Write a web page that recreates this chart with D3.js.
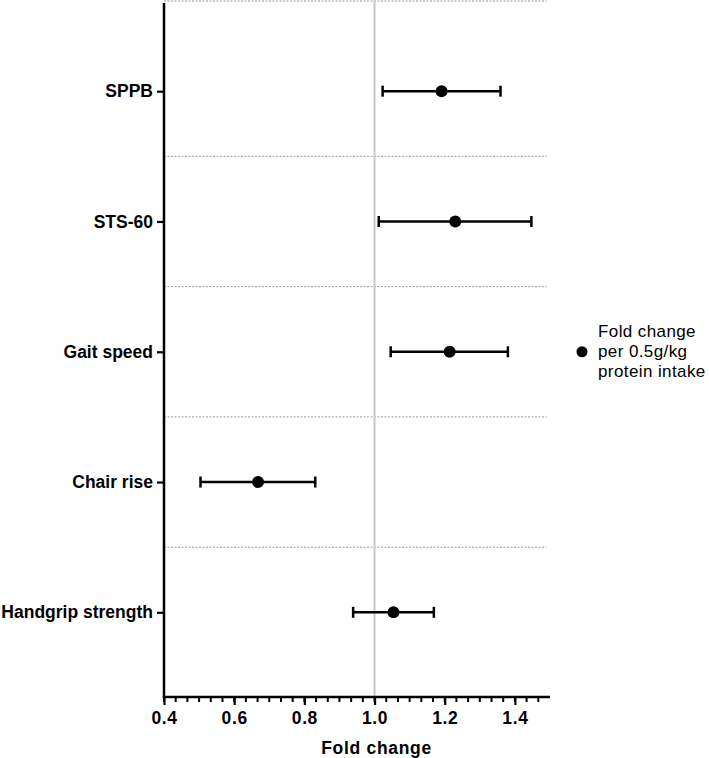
<!DOCTYPE html>
<html><head><meta charset="utf-8">
<script src="https://cdn.jsdelivr.net/npm/d3@7"></script>
<style>
body{margin:0;background:#fff;}
text{font-family:"Liberation Sans",Arial,sans-serif;}
</style></head>
<body><svg id="c" width="709" height="758"></svg>
<script>
const categories = ["SPPB","STS-60","Gait speed","Chair rise","Handgrip strength"];
const estimates  = [1.191, 1.230, 1.214, 0.668, 1.054];
const lower      = [1.023, 1.012, 1.046, 0.504, 0.939];
const upper      = [1.359, 1.447, 1.380, 0.831, 1.169];
const xTicks     = [0.4, 0.6, 0.8, 1.0, 1.2, 1.4];
const legendLines = ["Fold change","per 0.5g/kg","protein intake"];
const xLabel = "Fold change";

(function(){
const svg = d3.select("#c");
const pl = 164, pr = 550, pt = 0, pb = 697;
const x = d3.scaleLinear().domain([0.4, 1.5]).range([pl, pr]);
const y = d3.scaleLinear().domain([-0.7, categories.length - 0.35]).range([pt, pb]);

// separators (dotted)
const seps = [-0.7].concat(d3.range(categories.length - 1).map(i => i + 0.5));
svg.append("g").selectAll("line").data(seps).join("line")
  .attr("x1", pl).attr("x2", x(1.49)).attr("y1", d => Math.max(1, y(d))).attr("y2", d => Math.max(1, y(d)))
  .attr("stroke", "#9a9a9a").attr("stroke-width", 1).attr("stroke-dasharray", "2,1.5");

// reference line at 1.0
svg.append("line").attr("x1", x(1)).attr("x2", x(1)).attr("y1", 0).attr("y2", pb)
  .attr("stroke", "#c8c8c8").attr("stroke-width", 2);

// x axis
const minor = d3.range(0, 33).map(i => 0.4 + i * 0.2 / 6).filter(v => v <= 1.5 + 1e-9);
svg.append("g").selectAll("line").data(minor).join("line")
  .attr("x1", d => x(d)).attr("x2", d => x(d)).attr("y1", pb).attr("y2", pb + 5)
  .attr("stroke", "#000").attr("stroke-width", 2);
const xa = svg.append("g").attr("transform", `translate(0,${pb})`)
  .call(d3.axisBottom(x).tickValues(xTicks).tickFormat(d3.format(".1f")).tickSize(8).tickPadding(7));
xa.select(".domain").remove();
xa.selectAll(".tick line").attr("stroke-width", 2.2);
xa.selectAll(".tick text").attr("font-size", 17.5).attr("font-weight", "bold").attr("fill", "#000")
  .attr("font-family", "Liberation Sans, Arial, sans-serif").attr("letter-spacing", "0.6px");
svg.append("line").attr("x1", pl - 1.2).attr("x2", pr).attr("y1", pb).attr("y2", pb)
  .attr("stroke", "#000").attr("stroke-width", 2.5);

// y axis
const ya = svg.append("g").attr("transform", `translate(${pl},0)`)
  .call(d3.axisLeft(y).tickValues(d3.range(categories.length)).tickFormat(i => categories[i]).tickSize(7).tickPadding(4));
ya.select(".domain").remove();
ya.selectAll(".tick line").attr("stroke-width", 2.2);
ya.selectAll(".tick text").attr("font-size", 17.5).attr("font-weight", "bold").attr("fill", "#000")
  .attr("font-family", "Liberation Sans, Arial, sans-serif");
svg.append("line").attr("x1", pl).attr("x2", pl).attr("y1", 3).attr("y2", pb + 1)
  .attr("stroke", "#000").attr("stroke-width", 2.5);

// error bars
const g = svg.append("g");
const data = categories.map((c, i) => ({c, i, e: estimates[i], lo: lower[i], hi: upper[i]}));
g.selectAll("line.bar").data(data).join("line").attr("class","bar")
  .attr("x1", d => x(d.lo)).attr("x2", d => x(d.hi)).attr("y1", d => y(d.i)).attr("y2", d => y(d.i))
  .attr("stroke", "#000").attr("stroke-width", 2.5);
["lo","hi"].forEach(k => {
  g.selectAll("line.cap" + k).data(data).join("line").attr("class","cap" + k)
    .attr("x1", d => x(d[k])).attr("x2", d => x(d[k])).attr("y1", d => y(d.i) - 5.5).attr("y2", d => y(d.i) + 5.5)
    .attr("stroke", "#000").attr("stroke-width", 2.5);
});
g.selectAll("circle").data(data).join("circle")
  .attr("cx", d => x(d.e)).attr("cy", d => y(d.i)).attr("r", 6).attr("fill", "#000");

// x label
svg.append("text").attr("x", x(1.0) + 2).attr("y", 754).attr("text-anchor", "middle")
  .attr("font-size", 17.5).attr("font-weight", "bold").attr("letter-spacing", "0.7px").text(xLabel);

// legend
const lg = svg.append("g");
lg.append("circle").attr("cx", 582).attr("cy", y(2)).attr("r", 5.5).attr("fill", "#000");
lg.selectAll("text").data(legendLines).join("text")
  .attr("x", 598).attr("y", (d, i) => 337 + i * 20)
  .attr("font-size", 17).attr("letter-spacing", "0.4px").attr("fill", "#000").text(d => d);
})();
</script></body></html>
